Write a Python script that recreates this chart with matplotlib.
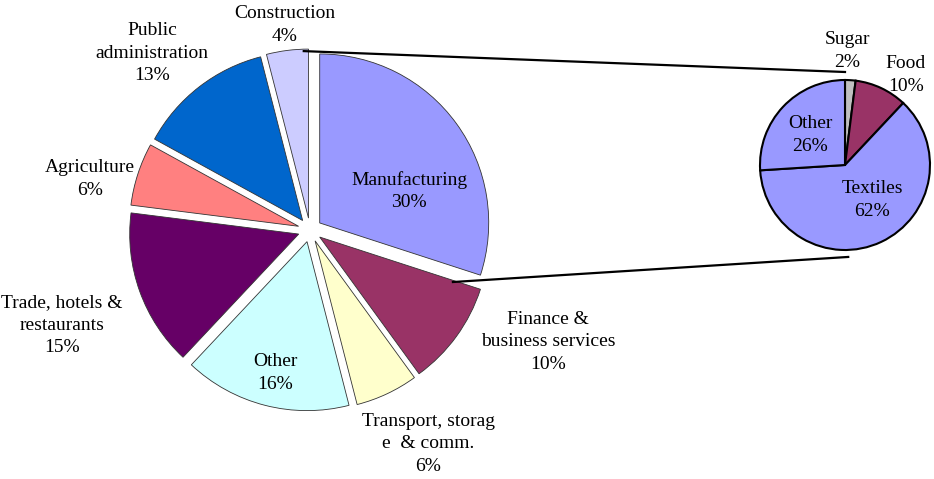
"""Pie-of-pie: sector shares with a breakdown of manufacturing."""

import matplotlib
matplotlib.use("Agg")
import matplotlib.pyplot as plt
import numpy as np

plt.rcParams["font.family"] = ["Liberation Serif", "DejaVu Serif"]

# Main pie, clockwise from 12 o'clock
sectors = ["Manufacturing", "Finance &\nbusiness services", "Transport, storag\ne  & comm.",
           "Other", "Trade, hotels &\nrestaurants", "Agriculture",
           "Public\nadministration", "Construction"]
shares = [30, 10, 6, 16, 15, 6, 13, 4]
sector_colors = ["#9999FF", "#993366", "#FFFFCC", "#CCFFFF",
                 "#660066", "#FF8080", "#0066CC", "#CCCCFF"]

# Secondary pie: breakdown of manufacturing
sub_names = ["Sugar", "Food", "Textiles", "Other"]
sub_shares = [2, 10, 62, 26]
sub_colors = ["#C0C0C0", "#993366", "#9999FF", "#9999FF"]

# layout (pixel space, y up)
W, H = 934, 479
main_c, main_r = (310, H - 230), 169
sub_c, sub_r = (845, H - 165), 85
gap = 12  # explosion offset, px

# label anchor points (pixel space, y down)
main_label_xy = [(409, 191), (548, 342), (428, 444), (275, 373),
                 (62, 325), (90, 179), (152, 53), (285, 25)]
sub_label_xy = [(847, 51), (906, 75), (872, 200), (810, 135)]


def polar(center, r, ang_cw):
    """Point at distance r, angle measured clockwise from 12 o'clock."""
    a = np.deg2rad(ang_cw)
    return center[0] + r * np.sin(a), center[1] + r * np.cos(a)


fig = plt.figure(figsize=(W / 100, H / 100), dpi=100)
ax = fig.add_axes([0, 0, 1, 1])

ax.pie(shares, colors=sector_colors, startangle=90, counterclock=False,
       explode=[gap] * len(shares), center=main_c, radius=main_r,
       wedgeprops={"edgecolor": "#333333", "linewidth": 0.6}, frame=True)
ax.pie(sub_shares, colors=sub_colors, startangle=90, counterclock=False,
       center=sub_c, radius=sub_r,
       wedgeprops={"edgecolor": "black", "linewidth": 1.5}, frame=True)
ax.set_xlim(0, W)
ax.set_ylim(0, H)
ax.set_aspect("equal")
ax.axis("off")

# connector lines between the two pies
p1 = polar(main_c, main_r + 10, -2)
q1 = polar(sub_c, sub_r + 8, 0)
p2 = polar(main_c, 0.9 * main_r, 110)
q2 = polar(sub_c, sub_r + 7, 178)
ax.plot([p1[0], q1[0]], [p1[1], q1[1]], color="black", lw=1.6)
ax.plot([p2[0], q2[0]], [p2[1], q2[1]], color="black", lw=1.6)

for name, val, (x, y) in zip(sectors, shares, main_label_xy):
    ax.text(x, H - y, f"{name}\n{val}%", ha="center", va="center",
            fontsize=14, linespacing=1.4)
for name, val, (x, y) in zip(sub_names, sub_shares, sub_label_xy):
    ax.text(x, H - y, f"{name}\n{val}%", ha="center", va="center",
            fontsize=14, linespacing=1.4)

fig.savefig("out.png", dpi=100)
